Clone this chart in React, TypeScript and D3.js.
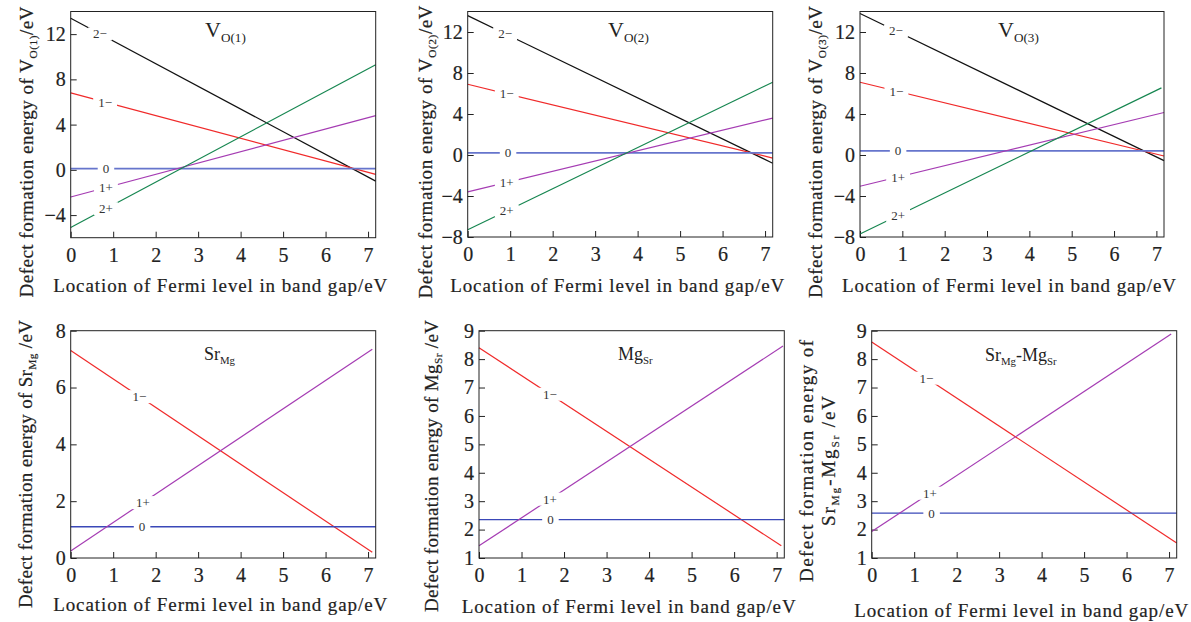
import React, { useEffect, useRef } from 'react';
import * as d3 from 'd3';

// band gap range on every x axis
const fermiMax = 7.18;
const fermiTicks = [0, 1, 2, 3, 4, 5, 6, 7];

// V_O(1): energy at E_F = 0 and at the line end
const vo1Charges = ['2−', '1−', '0', '1+', '2+'];
const vo1AtZero = [13.4, 6.8, 0.1, -2.4, -5.1];
const vo1AtEnd = [-1.0, -0.4, 0.1, 4.8, 9.3];
const vo1EndX = [7.18, 7.18, 7.18, 7.18, 7.18];

// V_O(2)
const vo2Charges = ['2−', '1−', '0', '1+', '2+'];
const vo2AtZero = [13.6, 6.9, 0.2, -3.6, -7.3];
const vo2AtEnd = [-0.8, -0.3, 0.2, 3.6, 7.1];
const vo2EndX = [7.18, 7.18, 7.18, 7.18, 7.18];

// V_O(3)
const vo3Charges = ['2−', '1−', '0', '1+', '2+'];
const vo3AtZero = [13.8, 7.1, 0.4, -3.05, -7.7];
const vo3AtEnd = [-0.55, -0.1, 0.4, 4.15, 6.55];
const vo3EndX = [7.18, 7.18, 7.18, 7.18, 7.12];

// Sr_Mg
const srMgCharges = ['1−', '0', '1+'];
const srMgAtZero = [7.3, 1.1, 0.25];
const srMgAtEnd = [0.2, 1.1, 7.35];
const srMgEndX = [7.1, 7.18, 7.1];

// Mg_Sr
const mgSrCharges = ['1−', '0', '1+'];
const mgSrAtZero = [8.4, 2.35, 1.43];
const mgSrAtEnd = [1.43, 2.35, 8.46];
const mgSrEndX = [7.11, 7.18, 7.15];

// Sr_Mg-Mg_Sr complex
const pairCharges = ['1−', '0', '1+'];
const pairAtZero = [8.6, 2.58, 1.93];
const pairAtEnd = [1.53, 2.58, 8.88];
const pairEndX = [7.18, 7.18, 7.05];

const vo1Ticks = [-4, 0, 4, 8, 12];
const voTicks = [-8, -4, 0, 4, 8, 12];
const srMgTicks = [0, 2, 4, 6, 8];
const subTicks = [1, 2, 3, 4, 5, 6, 7, 8, 9];

const colorTop: Record<string, string> = {
  '2−': '#111111', '1−': '#f02a2a', '0': '#6675cc', '1+': '#a53cb3', '2+': '#168650',
};
const colorBottom: Record<string, string> = {
  '1−': '#f02a2a', '0': '#3a48b8', '1+': '#a53cb3',
};

type Seg = { t: string; sub?: boolean };

const xLabel = 'Location of Fermi level in band gap/eV';

const panels = [
  {
    left: 70.7, right: 375.7, top: 11.5, bottom: 237.7, y: [-6, 14], ticks: vo1Ticks,
    charges: vo1Charges, y0: vo1AtZero, y1: vo1AtEnd, x1: vo1EndX, labelX: [0.69, 0.81, 0.83, 0.83, 0.83],
    colors: colorTop, zeroWidth: 1.8,
    title: [{ t: 'V' }, { t: 'O(1)', sub: true }], titleX: 205, titleY: 37, titleSize: 22,
    yLabel: [[{ t: 'Defect formation energy of V' }, { t: 'O(1)', sub: true }, { t: '/eV' }]],
    yLabelX: [33], yLabelY: 152, yLabelLen: [291], xLabelY: 292,
  },
  {
    left: 467.7, right: 772.7, top: 11.5, bottom: 237, y: [-8, 14], ticks: voTicks,
    charges: vo2Charges, y0: vo2AtZero, y1: vo2AtEnd, x1: vo2EndX, labelX: [0.88, 0.92, 0.95, 0.92, 0.92],
    colors: colorTop, zeroWidth: 1.8,
    title: [{ t: 'V' }, { t: 'O(2)', sub: true }], titleX: 608, titleY: 37, titleSize: 22,
    yLabel: [[{ t: 'Defect formation energy of V' }, { t: 'O(2)', sub: true }, { t: '/eV' }]],
    yLabelX: [432], yLabelY: 152, yLabelLen: [293], xLabelY: 292,
  },
  {
    left: 860, right: 1164, top: 11.5, bottom: 237, y: [-8, 14], ticks: voTicks,
    charges: vo3Charges, y0: vo3AtZero, y1: vo3AtEnd, x1: vo3EndX, labelX: [0.85, 0.86, 0.9, 0.9, 0.9],
    colors: colorTop, zeroWidth: 1.8,
    title: [{ t: 'V' }, { t: 'O(3)', sub: true }], titleX: 998, titleY: 37, titleSize: 22,
    yLabel: [[{ t: 'Defect formation energy of V' }, { t: 'O(3)', sub: true }, { t: '/eV' }]],
    yLabelX: [822], yLabelY: 152, yLabelLen: [292], xLabelY: 292,
  },
  {
    left: 70.7, right: 375.7, top: 330.7, bottom: 558, y: [0, 8], ticks: srMgTicks,
    charges: srMgCharges, y0: srMgAtZero, y1: srMgAtEnd, x1: srMgEndX, labelX: [1.62, 1.68, 1.7],
    colors: colorBottom, zeroWidth: 1.6,
    title: [{ t: 'Sr' }, { t: 'Mg', sub: true }], titleX: 204, titleY: 360, titleSize: 18,
    yLabel: [[{ t: 'Defect formation energy of Sr' }, { t: 'Mg', sub: true }, { t: ' /eV' }]],
    yLabelX: [32], yLabelY: 464, yLabelLen: [288], xLabelY: 611,
  },
  {
    left: 479, right: 784.3, top: 330.7, bottom: 558, y: [1, 9], ticks: subTicks,
    charges: mgSrCharges, y0: mgSrAtZero, y1: mgSrAtEnd, x1: mgSrEndX, labelX: [1.67, 1.68, 1.67],
    colors: colorBottom, zeroWidth: 1.3,
    title: [{ t: 'Mg' }, { t: 'Sr', sub: true }], titleX: 618, titleY: 360, titleSize: 18,
    yLabel: [[{ t: 'Defect formation energy of Mg' }, { t: 'Sr', sub: true }, { t: ' /eV' }]],
    yLabelX: [438], yLabelY: 466, yLabelLen: [292], xLabelY: 613,
  },
  {
    left: 871.7, right: 1176.7, top: 330.7, bottom: 558, y: [1, 9], ticks: subTicks,
    charges: pairCharges, y0: pairAtZero, y1: pairAtEnd, x1: pairEndX, labelX: [1.29, 1.41, 1.37],
    colors: colorBottom, zeroWidth: 1.3,
    title: [{ t: 'Sr' }, { t: 'Mg', sub: true }, { t: '-Mg' }, { t: 'Sr', sub: true }], titleX: 985, titleY: 361, titleSize: 18,
    yLabel: [
      [{ t: 'Defect formation energy of' }],
      [{ t: 'Sr' }, { t: 'Mg', sub: true }, { t: '-Mg' }, { t: 'Sr', sub: true }, { t: ' /eV' }],
    ],
    yLabelX: [813, 835], yLabelY: 461, yLabelLen: [242, 130], xLabelY: 617,
  },
];

const serif = 'Liberation Serif';
const ink = '#222';

function addSegments(text: any, segs: Seg[], size: number) {
  segs.forEach((s, i) => {
    const prevSub = i > 0 && segs[i - 1].sub;
    const sp = text.append('tspan').text(s.t);
    if (s.sub) {
      sp.attr('font-size', size * 0.6).attr('dy', size * 0.22);
    } else {
      sp.attr('font-size', size);
      if (prevSub) sp.attr('dy', -size * 0.22);
    }
  });
}

export default function App() {
  const ref = useRef<SVGSVGElement>(null);

  useEffect(() => {
    const svg = d3.select(ref.current);
    svg.selectAll('*').remove();

    panels.forEach((p) => {
      const x = d3.scaleLinear().domain([0, fermiMax]).range([p.left, p.right]);
      const y = d3.scaleLinear().domain(p.y).range([p.bottom, p.top]);
      const g = svg.append('g');

      // axes with inward ticks
      const ax = g.append('g').attr('transform', `translate(0,${p.bottom})`)
        .call(d3.axisBottom(x).tickValues(fermiTicks).tickSizeInner(-6).tickSizeOuter(0).tickPadding(10));
      const ay = g.append('g').attr('transform', `translate(${p.left},0)`)
        .call(d3.axisLeft(y).tickValues(p.ticks).tickSizeInner(-6).tickSizeOuter(0).tickPadding(5));
      [ax, ay].forEach((a) => {
        a.select('.domain').remove();
        a.attr('font-size', 20);
        a.selectAll('text').attr('font-family', serif).attr('fill', ink)
          .attr('stroke', ink).attr('stroke-width', 0.2);
        a.selectAll('line').attr('stroke', ink);
      });

      // lines
      const line = d3.line<[number, number]>().x((d) => x(d[0])).y((d) => y(d[1]));
      p.charges.forEach((c, i) => {
        const pts: [number, number][] = [[0, p.y0[i]], [p.x1[i], p.y1[i]]];
        g.append('path').attr('d', line(pts)).attr('fill', 'none')
          .attr('stroke', p.colors[c]).attr('stroke-width', c === '0' ? p.zeroWidth : 1.2);
      });

      // charge labels sitting in gaps of the lines
      p.charges.forEach((c, i) => {
        const lx = p.labelX[i];
        const ly = p.y0[i] + (p.y1[i] - p.y0[i]) * lx / p.x1[i];
        const lg = g.append('g');
        const t = lg.append('text').attr('x', x(lx)).attr('y', y(ly))
          .attr('text-anchor', 'middle').attr('dominant-baseline', 'central')
          .attr('font-family', serif).attr('font-size', 13).attr('fill', '#333').text(c);
        const b = (t.node() as SVGTextElement).getBBox();
        lg.insert('rect', 'text').attr('x', b.x - 5).attr('y', b.y + 1)
          .attr('width', b.width + 10).attr('height', b.height - 2).attr('fill', '#fff');
      });

      // frame
      g.append('rect').attr('x', p.left).attr('y', p.top)
        .attr('width', p.right - p.left).attr('height', p.bottom - p.top)
        .attr('fill', 'none').attr('stroke', ink).attr('stroke-width', 1);

      // title
      const tt = g.append('text').attr('x', p.titleX).attr('y', p.titleY)
        .attr('font-family', serif).attr('fill', ink);
      addSegments(tt, p.title as Seg[], p.titleSize);

      // x label
      g.append('text').attr('x', (p.left + p.right) / 2 - 3).attr('y', p.xLabelY)
        .attr('text-anchor', 'middle').attr('font-family', serif).attr('font-size', 19)
        .attr('fill', ink).attr('stroke', ink).attr('stroke-width', 0.2)
        .attr('textLength', 334).attr('lengthAdjust', 'spacing').text(xLabel);

      // y label (rotated, one or two lines)
      p.yLabel.forEach((segs, k) => {
        const yt = g.append('text')
          .attr('transform', `translate(${p.yLabelX[k]},${p.yLabelY}) rotate(-90)`)
          .attr('text-anchor', 'middle').attr('font-family', serif)
          .attr('fill', ink).attr('stroke', ink).attr('stroke-width', 0.2)
          .attr('textLength', p.yLabelLen[k]).attr('lengthAdjust', 'spacing');
        addSegments(yt, segs as Seg[], 19);
      });
    });
  }, []);

  return (
    <svg ref={ref} width={1191} height={622}
      style={{ position: 'absolute', left: 0, top: 0, background: '#fff' }} />
  );
}
